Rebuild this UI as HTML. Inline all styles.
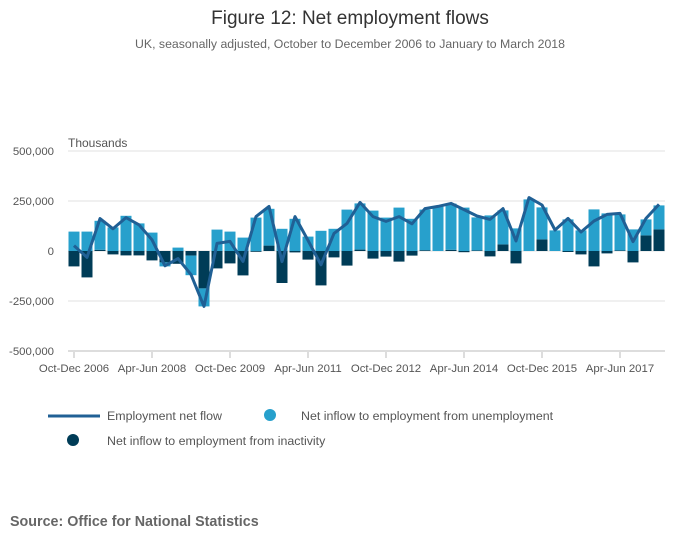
<!DOCTYPE html>
<html><head><meta charset="utf-8"><style>
body{margin:0;background:#fff;width:700px;height:549px;overflow:hidden;font-family:"Liberation Sans",sans-serif}
</style></head><body>
<svg width="700" height="549" id="c" font-family="Liberation Sans, sans-serif">
<text x="350" y="24" text-anchor="middle" font-size="19" fill="#333">Figure 12: Net employment flows</text>
<text x="350" y="48" text-anchor="middle" font-size="12.3" fill="#666">UK, seasonally adjusted, October to December 2006 to January to March 2018</text>
<text x="68" y="147" font-size="12" fill="#555">Thousands</text>
<g id="grid"></g><g id="bars"></g><g id="line"></g><g id="axes"></g>
<g>
<line x1="48" y1="416" x2="100" y2="416" stroke="#206095" stroke-width="3"/>
<text x="107" y="420" font-size="12.4" fill="#555">Employment net flow</text>
<circle cx="270" cy="415" r="6" fill="#27a0cc"/>
<text x="301" y="420" font-size="12.4" fill="#555">Net inflow to employment from unemployment</text>
<circle cx="73" cy="440" r="6" fill="#003c57"/>
<text x="107" y="445" font-size="12.4" fill="#555">Net inflow to employment from inactivity</text>
</g>
<text x="10" y="526" font-size="14.3" font-weight="bold" fill="#666">Source: Office for National Statistics</text>
</svg>
<script>
const tickLabels=["Oct-Dec 2006","Apr-Jun 2008","Oct-Dec 2009","Apr-Jun 2011","Oct-Dec 2012","Apr-Jun 2014","Oct-Dec 2015","Apr-Jun 2017"];
const yTicks=[500000,250000,0,-250000,-500000];
const unemp=[97,97,145,118,176,138,92,-20,17,-98,-90,107,97,67,167,184,111,161,72,101,111,207,231,202,167,217,161,203,222,231,217,165,178,170,113,258,160,103,158,103,208,188,180,108,80,120];
const inact=[-77,-132,6,-17,-22,-22,-47,-57,-64,-23,-187,-87,-62,-122,-4,27,-160,-7,-43,-172,-32,-73,7,-38,-28,-53,-23,4,0,6,-6,3,-27,33,-62,0,58,0,-5,-17,-77,-12,3,-57,78,108];
const net=[27,-32,162,111,167,131,56,-74,-38,-118,-277,38,48,-52,172,223,-53,172,53,-69,88,138,243,172,148,172,136,212,223,238,207,175,158,212,50,267,230,105,163,95,150,183,188,47,163,233];
const NS="http://www.w3.org/2000/svg";
const X=i=>74+13*i;
const Y=v=>251-v*0.2;
function mk(t,a,p){const e=document.createElementNS(NS,t);for(const k in a)e.setAttribute(k,a[k]);p.appendChild(e);return e;}
const grid=document.getElementById('grid'),bars=document.getElementById('bars'),line=document.getElementById('line'),axes=document.getElementById('axes');
yTicks.forEach(t=>{const y=Y(t/1000);
const g=mk('line',{x1:68,x2:665,y1:y,y2:y,stroke:t===-500000?'#bbb':'#e0e0e0','stroke-width':1},grid);


const tx=mk('text',{x:54,y:y+4,'text-anchor':'end','font-size':11.4,fill:'#555'},axes);tx.textContent=t.toLocaleString('en-GB');

});
unemp.forEach((u,i)=>{const d=inact[i];let pos=0,neg=0;
const segs=[[d,'#003c57','bar-inactivity'],[u,'#27a0cc','bar-unemployment']];
segs.forEach(([v,col,nm])=>{let y0,y1;if(v>=0){y0=pos;y1=pos+v;pos=y1;}else{y0=neg;y1=neg+v;neg=y1;}
const r=mk('rect',{x:X(i)-5.5,width:11,y:Math.min(Y(y0),Y(y1)),height:Math.abs(Y(y0)-Y(y1)),fill:col},bars);

});});
const p=mk('polyline',{points:net.map((v,i)=>X(i)+','+Y(v)).join(' '),fill:'none',stroke:'#206095','stroke-width':3,'stroke-linejoin':'round'},line);


tickLabels.forEach((l,k)=>{const x=X(k*6);
const tk=mk('line',{x1:x,x2:x,y1:352,y2:358,stroke:'#bbb'},axes);


const tx=mk('text',{x:x,y:372,'text-anchor':'middle','font-size':11.4,fill:'#555'},axes);tx.textContent=l;

});
</script>
</body></html>
